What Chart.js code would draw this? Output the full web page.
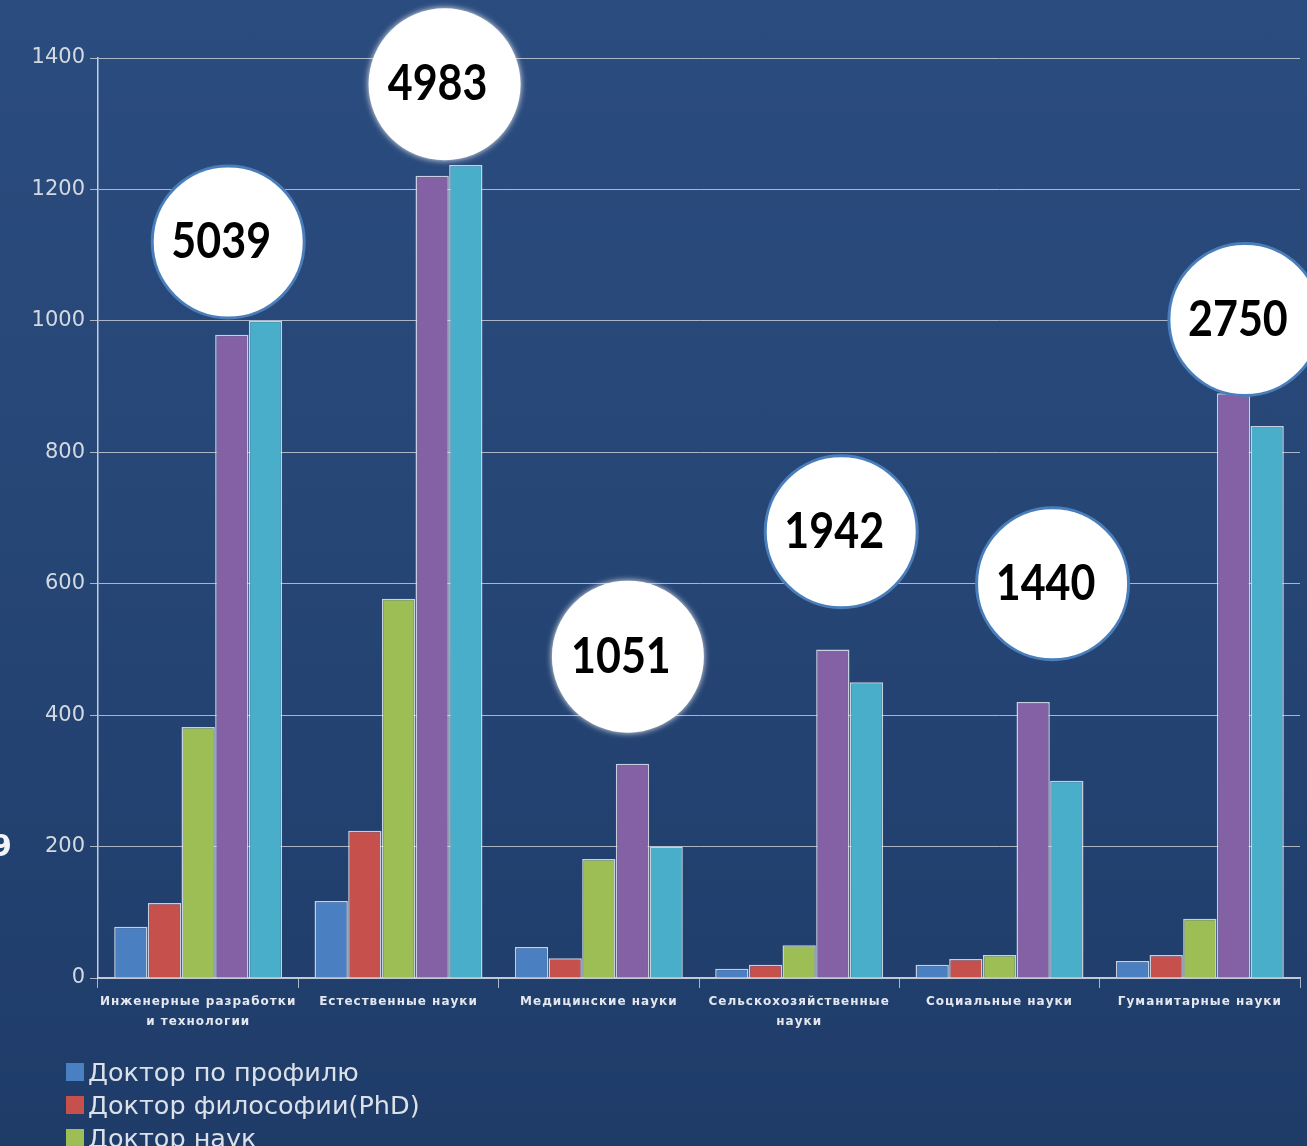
<!DOCTYPE html>
<html>
<head>
<meta charset="utf-8">
<script src="https://cdn.jsdelivr.net/npm/chart.js@4"></script>
<style>
  html, body { margin:0; padding:0; width:1307px; height:1146px; overflow:hidden; }
  body { background: linear-gradient(180deg, #2b4c7f 0%, #264676 45%, #1f3c69 100%); position:relative; font-family:"DejaVu Sans", sans-serif; }
  #c { position:absolute; left:0; top:0; }
  #legend { position:absolute; left:66px; top:1055px; }
  .li { display:flex; align-items:center; height:33px; color:#dce1e9; font-size:25.5px; font-family:"DejaVu Sans", sans-serif; }
  .box { width:18px; height:18px; margin-right:4px; }
  #frag { position:absolute; left:-9px; top:828px; color:#f2f4f7; font:bold 30px "DejaVu Sans", sans-serif; }
</style>
</head>
<body>
<canvas id="c" width="1307" height="1146"></canvas>
<div id="frag">9</div>
<div id="legend"></div>
<script>
const categories = [
  ["Инженерные разработки", "и технологии"],
  "Естественные науки",
  "Медицинские науки",
  ["Сельскохозяйственные", "науки"],
  "Социальные науки",
  "Гуманитарные науки"
];
const seriesNames = ["Доктор по профилю", "Доктор философии(PhD)", "Доктор наук", "Кандидат наук", "Магистр"];
const seriesColors = ["#4a7fc1", "#c6504b", "#9dbd55", "#8460a5", "#48aec9"];
const doctorProfile = [78, 117, 47, 14, 20, 26];
const doctorPhD     = [114, 224, 30, 20, 29, 35];
const doctorScience = [382, 577, 181, 50, 35, 90];
const candidate     = [979, 1221, 326, 500, 420, 890];
const master        = [1000, 1237, 200, 450, 300, 840];
const yTicks = [0, 200, 400, 600, 800, 1000, 1200, 1400];
const totals = [5039, 4983, 1051, 1942, 1440, 2750];
// annotation bubble placement (data-level y, category-relative x shift)
const bubbleY = [1120, 1360, 489, 679, 600, 1002];
const bubbleShift = [0.15, 0.23, 0.145, 0.21, 0.265, 0.225];
const bubbleBorder = [true, false, false, true, true, true];

const seriesValues = [doctorProfile, doctorPhD, doctorScience, candidate, master];

const bubbles = {
  id: 'bubbles',
  afterDatasetsDraw(chart) {
    const ctx = chart.ctx, x = chart.scales.x, y = chart.scales.y;
    const cw = x.getPixelForValue(1) - x.getPixelForValue(0);
    const r = 76;
    totals.forEach((t, i) => {
      const cx = x.getPixelForValue(i) + bubbleShift[i] * cw;
      const cy = y.getPixelForValue(bubbleY[i]);
      ctx.save();
      ctx.beginPath();
      ctx.arc(cx, cy, r, 0, Math.PI * 2);
      if (!bubbleBorder[i]) {
        ctx.shadowColor = 'rgba(255,255,255,0.9)';
        ctx.shadowBlur = 6;
      }
      ctx.fillStyle = '#ffffff';
      ctx.fill();
      ctx.shadowBlur = 0;
      if (bubbleBorder[i]) {
        ctx.lineWidth = 3;
        ctx.strokeStyle = '#4a7ebb';
        ctx.stroke();
      }
      ctx.translate(cx - 7, cy);
      ctx.scale(0.86, 1);
      ctx.fillStyle = '#000';
      ctx.font = 'bold 50px Lato, "Noto Sans", sans-serif';
      ctx.textAlign = 'center';
      ctx.textBaseline = 'middle';
      ctx.fillText(String(t), 0, 0);
      ctx.restore();
    });
  }
};

const chart = new Chart(document.getElementById('c'), {
  type: 'bar',
  data: {
    labels: categories,
    datasets: seriesNames.map((n, k) => ({
      label: n,
      data: seriesValues[k],
      backgroundColor: seriesColors[k],
      borderColor: 'rgba(228,233,242,0.85)',
      borderWidth: 1.5,
      borderSkipped: 'bottom',
      categoryPercentage: 0.84,
      barPercentage: 0.99
    }))
  },
  options: {
    responsive: false,
    animation: false,
    devicePixelRatio: 1,
    layout: { padding: { top: 58, right: 7, bottom: 108, left: 0 } },
    plugins: { legend: { display: false }, tooltip: { enabled: false } },
    scales: {
      y: {
        min: 0, max: 1400,
        afterBuildTicks(s) { s.ticks = yTicks.map(v => ({ value: v })); },
        afterFit(s) { s.width = 98; },
        ticks: { color: '#d3d9e1', font: { family: '"DejaVu Sans", sans-serif', size: 21 }, padding: 5, callback: v => String(v) },
        grid: { color: 'rgba(205,210,218,0.8)', lineWidth: 1, tickLength: 8 },
        border: { display: true, color: 'rgba(215,220,228,0.9)', width: 1.5 }
      },
      x: {
        afterFit(s) { s.height = 60; },
        ticks: { color: '#e4e8ee', font: { family: '"DejaVu Sans", sans-serif', size: 12, weight: 'bold', lineHeight: 1.65 }, padding: 4, maxRotation: 0, autoSkip: false },
        grid: { offset: true, drawOnChartArea: false, tickLength: 10, color: 'rgba(205,210,218,0.8)' },
        border: { display: true, color: 'rgba(215,220,228,0.9)', width: 1.5 }
      }
    }
  },
  plugins: [bubbles]
});

// widen the category labels' tracking as in the original
const xs = chart.scales.x;
const origDrawLabels = xs.drawLabels.bind(xs);
xs.drawLabels = function (area) {
  const c = this.ctx;
  const prev = c.letterSpacing;
  c.letterSpacing = '1px';
  origDrawLabels(area);
  c.letterSpacing = prev || '0px';
};
chart.draw();

const lg = document.getElementById('legend');
chart.data.datasets.forEach(ds => {
  const d = document.createElement('div'); d.className = 'li';
  const b = document.createElement('span'); b.className = 'box'; b.style.background = ds.backgroundColor;
  const t = document.createElement('span'); t.textContent = ds.label;
  d.appendChild(b); d.appendChild(t); lg.appendChild(d);
});
</script>
</body>
</html>
